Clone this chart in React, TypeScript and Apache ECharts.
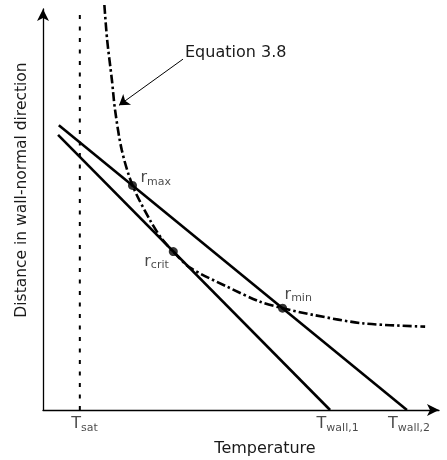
import React, { useEffect, useRef } from 'react';
import * as echarts from 'echarts';

// Schematic values (arbitrary units: temperature 0-100, distance 0-100)
const tSat = 9.3;
const wallTemps = [72.5, 91.9];
const tLabelNames = ['sat', 'wall,1', 'wall,2'];
const tLabelOffsetX = [-8.5, -13.5, -19];

const upperLine = [[4.0, 71.0], [91.9, 0]];
const lowerLine = [[3.8, 68.6], [72.5, 0]];

const curveX = [15.5, 16.2, 17.4, 18.2, 19.9, 22.6, 27.0, 30.0, 32.9, 37.1, 46.4, 54.8, 60.5, 68.3, 80.9, 96.5];
const curveY = [101.0, 92.3, 82.3, 74.8, 64.8, 56.0, 47.4, 42.7, 39.5, 35.5, 30.8, 27.0, 25.4, 23.7, 21.6, 20.8];

const pointNames = ['max', 'crit', 'min'];
const pointX = [22.6, 32.9, 60.5];
const pointY = [56.0, 39.5, 25.4];
const pointLabelOffsets = [[8, -8.5], [-29, 8.5], [2, -15]];

const eqText = 'Equation 3.8';
const eqArrowFrom = [35.35, 87.5];
const eqArrowTo = [19.2, 76.0];

const F = "'DejaVu Sans', Verdana, sans-serif";
const C = '#1a1a1a';

const rich = {
  m: { fontSize: 16, fontFamily: F, color: C, lineHeight: 20, textBorderWidth: 0 },
  s: { fontSize: 11, fontFamily: F, color: C, lineHeight: 12, verticalAlign: 'bottom', textBorderWidth: 0 },
};

export default function App() {
  const ref = useRef<HTMLDivElement>(null);
  useEffect(() => {
    if (!ref.current) return;
    const chart = echarts.init(ref.current, null, { renderer: 'svg' });
    const axisCommon = {
      type: 'value',
      min: 0,
      max: 100,
      axisLine: {
        show: true,
        symbol: ['none', 'arrow'],
        symbolSize: [9, 12],
        lineStyle: { color: '#000', width: 1.3 },
      },
      axisTick: { show: false },
      axisLabel: { show: false },
      splitLine: { show: false },
      nameLocation: 'middle',
    };
    const labelBase = {
      show: true,
      position: 'inside',
      align: 'left',
      verticalAlign: 'middle',
      color: C,
      textBorderWidth: 0,
      rich,
    };
    chart.setOption({
      animation: false,
      grid: { left: 43, top: 9, right: 8, bottom: 50 },
      xAxis: {
        ...axisCommon,
        name: 'Temperature',
        nameGap: 29,
        nameTextStyle: { fontFamily: F, fontSize: 16, color: C, padding: [0, 0, 0, 48] },
      },
      yAxis: {
        ...axisCommon,
        name: 'Distance in wall-normal direction',
        nameGap: 14,
        nameTextStyle: { fontFamily: F, fontSize: 15.5, color: C, padding: [0, 0, 0, 39] },
      },
      graphic: [
        {
          type: 'text',
          x: 185,
          y: 51,
          style: { text: eqText, fontFamily: F, fontSize: 16, fill: C, verticalAlign: 'middle' },
        },
      ],
      series: [
        {
          type: 'line',
          data: [[tSat, 0], [tSat, 100]],
          symbol: 'none',
          lineStyle: { color: '#000', width: 2, type: [4, 7.5] },
        },
        {
          type: 'line',
          data: upperLine,
          symbol: 'none',
          lineStyle: { color: '#000', width: 2.6 },
        },
        {
          type: 'line',
          data: lowerLine,
          symbol: 'none',
          lineStyle: { color: '#000', width: 2.6 },
        },
        {
          type: 'line',
          data: curveX.map((x, i) => [x, curveY[i]]),
          symbol: 'none',
          smooth: 0.3,
          clip: false,
          lineStyle: { color: '#000', width: 2.6, type: [9, 3, 2.5, 3] },
          markLine: {
            silent: true,
            symbol: ['none', 'arrow'],
            symbolSize: 10,
            label: { show: false },
            lineStyle: { color: '#000', width: 1, type: 'solid' },
            data: [[{ coord: eqArrowFrom }, { coord: eqArrowTo }]],
          },
        },
        {
          type: 'scatter',
          symbolSize: 9,
          itemStyle: { color: '#000' },
          data: pointNames.map((n, i) => ({
            name: n,
            value: [pointX[i], pointY[i]],
            label: {
              ...labelBase,
              offset: pointLabelOffsets[i],
              formatter: '{m|r}{s|' + n + '}',
            },
          })),
        },
        {
          type: 'scatter',
          symbolSize: 0,
          clip: false,
          itemStyle: { color: 'transparent' },
          data: tLabelNames.map((n, i) => ({
            name: n,
            value: [[tSat, ...wallTemps][i], 0],
            label: {
              ...labelBase,
              offset: [tLabelOffsetX[i], 12.7],
              formatter: '{m|T}{s|' + n + '}',
            },
          })),
        },
      ],
    });
    return () => chart.dispose();
  }, []);
  return <div ref={ref} style={{ position: 'fixed', left: 0, top: 0, width: 447, height: 460 }} />;
}
